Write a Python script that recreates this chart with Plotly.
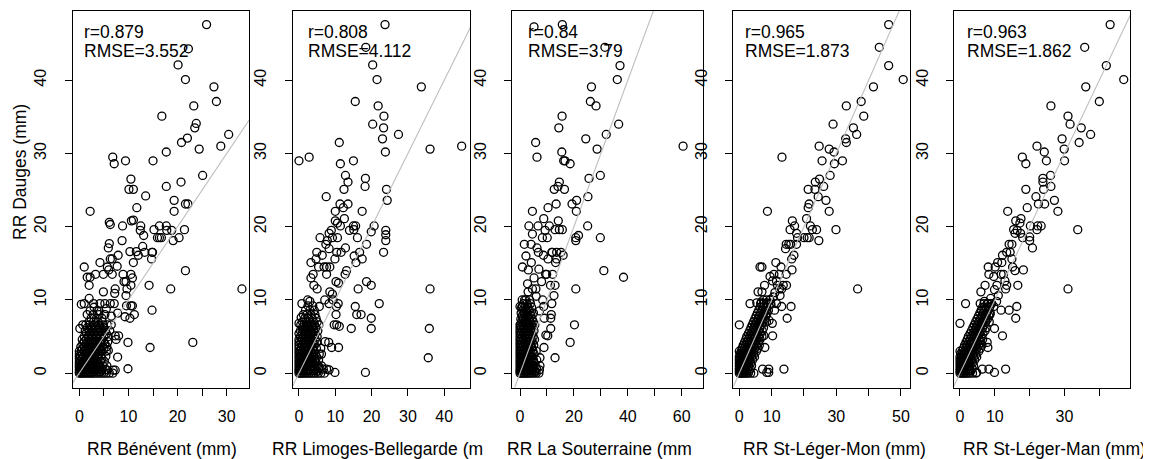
import plotly.graph_objects as go

# ---- data (mm) ----
stations = ["Bénévent", "Limoges-Bellegarde", "La Souterraine", "St-Léger-Mon", "St-Léger-Man"]
xlabels = ["RR Bénévent (mm)", "RR Limoges-Bellegarde (m", "RR La Souterraine (mm",
           "RR St-Léger-Mon (mm)", "RR St-Léger-Man (mm)"]
ylabel = "RR Dauges (mm)"
r_vals = ["0.879", "0.808", "0.84", "0.965", "0.963"]
rmse_vals = ["3.552", "4.112", "3.79", "1.873", "1.862"]

# scattered points (x = station, y = Dauges)
benevent_pts = [
    (25.9, 47.6), (22.2, 44.3), (20.1, 42.1), (21.6, 40.1), (27.4, 39.1), (27.9, 37.1), (23.3, 36.5),
    (16.8, 35.1),
    (23.8, 34.1), (23.5, 33.5), (30.4, 32.6), (22.0, 32.1), (20.8, 31.5), (24.4, 30.6), (28.8, 31.0),
    (6.8, 29.5), (7.1, 28.6), (9.4, 29.0), (15.0, 29.0), (17.7, 30.2), (25.1, 27.0), (10.5, 26.5),
    (10.1, 25.1), (11.0, 25.1), (20.7, 26.1), (17.7, 25.5), (13.5, 24.2), (19.3, 23.6), (21.6, 23.1),
    (22.1, 23.1), (19.3, 22.1), (2.2, 22.1), (11.7, 22.6), (6.1, 20.6), (6.3, 20.3), (10.6, 20.8),
    (11.0, 20.9), (8.8, 20.1), (12.5, 20.1), (12.4, 19.5), (15.2, 19.6), (16.3, 20.1), (17.7, 20.1),
    (17.8, 19.5), (18.8, 19.5), (21.4, 19.6), (15.9, 18.5), (16.3, 18.5), (16.7, 18.5), (20.3, 18.5),
    (19.1, 18.1), (8.7, 18.1), (13.1, 18.8), (6.1, 17.7), (5.9, 17.1), (7.9, 16.1), (10.3, 16.6),
    (11.6, 16.6), (12.0, 16.1), (13.3, 16.5), (14.8, 16.5), (14.9, 16.5), (12.9, 17.3), (11.0, 15.1),
    (14.7, 15.6), (6.3, 15.6), (6.7, 15.6), (4.2, 15.1), (7.7, 14.6), (5.7, 14.5), (6.0, 14.1),
    (4.9, 13.5), (6.7, 13.5), (1.0, 14.5), (3.3, 13.5), (1.6, 13.1), (2.2, 13.1), (2.0, 12.0),
    (8.9, 13.5), (9.1, 12.5), (9.5, 12.5), (10.5, 13.5), (10.8, 13.0), (10.5, 12.0), (9.7, 11.5),
    (7.3, 11.5), (7.2, 10.9), (4.9, 11.1), (9.5, 10.6), (14.2, 12.0), (18.6, 11.5), (21.6, 14.0),
    (14.8, 8.6), (11.2, 8.0), (9.6, 9.2), (10.5, 9.2), (10.8, 9.2), (1.0, 9.5), (2.9, 9.5), (4.2, 9.5),
    (5.2, 9.5), (6.3, 9.5), (7.1, 9.5), (7.8, 8.2), (0.1, 6.1), (0.7, 6.6), (9.3, 7.7), (10.3, 7.5),
    (7.3, 5.1), (8.0, 5.1), (7.5, 4.6), (9.9, 4.2), (23.1, 4.2), (14.4, 3.5), (4.2, 3.6), (5.9, 3.1),
    (7.8, 2.2), (9.9, 0.6), (7.3, 0.4), (6.9, 0.4), (5.6, 0.45), (4.6, 0.4), (33.1, 11.5),
    (3.0, 9.0), (4.0, 8.5), (5.5, 8.8), (6.5, 7.8), (0.4, 9.4), (2.0, 10.2),
]
limoges_pts = [
    (23.7, 47.6), (18.4, 44.5), (20.3, 42.1), (21.5, 40.1), (33.7, 39.1), (15.5, 37.1), (21.8, 36.5),
    (23.4, 35.1), (20.3, 34.0), (23.3, 33.5), (27.4, 32.6), (23.0, 32.0), (11.1, 31.5), (36.1, 30.6),
    (23.8, 30.2), (44.8, 31.0), (0.0, 29.0), (2.8, 29.5), (11.4, 28.6), (15.0, 29.0), (12.8, 27.0),
    (13.5, 26.1), (18.3, 26.6), (18.2, 25.5), (12.4, 25.1), (7.5, 24.1), (24.1, 25.1), (24.3, 23.6),
    (11.3, 23.1), (13.5, 23.1), (12.2, 22.6), (17.4, 22.1), (10.0, 22.1), (12.5, 21.1), (10.6, 20.5),
    (11.4, 20.1), (10.0, 20.8), (20.7, 20.1), (19.9, 19.3), (8.9, 19.5), (8.3, 19.1), (9.2, 18.5),
    (10.6, 18.5), (13.9, 19.5), (15.1, 19.6), (15.6, 20.1), (15.0, 20.1), (16.1, 18.5), (23.9, 19.5),
    (23.9, 18.9), (23.9, 18.1), (18.6, 17.6), (5.8, 18.5), (7.4, 17.6), (7.8, 18.1), (8.3, 17.0),
    (12.8, 17.1), (11.6, 16.5), (10.4, 16.5), (9.9, 15.6), (16.7, 16.5), (15.2, 16.0), (15.7, 15.1),
    (17.4, 15.6), (23.3, 16.5), (4.9, 16.5), (6.4, 16.1), (3.3, 15.1), (4.7, 15.6), (5.4, 14.5),
    (6.9, 14.5), (7.6, 14.5), (7.6, 13.5), (8.5, 14.5), (13.1, 14.0), (12.7, 13.5), (3.9, 13.5),
    (3.3, 13.0), (4.1, 12.0), (5.0, 11.5), (10.2, 12.5), (10.9, 12.3), (8.5, 11.1), (18.6, 12.5),
    (19.9, 12.0), (16.3, 11.5), (36.1, 11.5), (9.2, 10.8), (9.4, 10.0), (7.1, 10.0), (8.3, 9.5),
    (10.8, 9.5), (0.8, 9.5), (22.1, 9.5), (15.5, 9.1), (3.0, 9.8), (5.6, 9.1), (10.3, 9.1), (10.2, 8.0),
    (15.9, 8.0), (17.1, 8.0), (9.7, 6.6), (10.4, 6.6), (11.1, 6.4), (14.4, 6.1), (19.9, 7.5), (19.9, 6.1),
    (35.9, 6.1), (35.6, 2.1), (9.0, 3.5), (10.9, 3.5), (7.2, 4.3), (8.2, 4.2), (6.2, 2.6), (18.3, 0.1),
    (9.9, 0.1), (7.6, 0.55), (6.7, 0.55), (8.3, 0.45), (5.5, 0.9), (0.0, 6.8), (0.6, 7.6), (2.4, 10.0),
]
souterraine_pts = [
    (15.7, 47.6), (5.2, 47.3), (31.5, 44.5), (37.1, 42.0), (36.1, 40.1), (26.5, 39.1), (26.1, 37.1),
    (28.2, 36.5), (15.6, 35.1), (36.6, 34.0), (14.4, 33.5), (32.0, 32.6), (24.4, 32.0), (5.8, 31.5),
    (28.6, 30.6), (60.5, 31.0), (6.3, 29.5), (15.5, 30.2), (16.2, 29.0), (16.7, 29.0), (18.6, 28.6),
    (29.8, 27.0), (25.6, 26.6), (14.6, 26.1), (14.1, 25.5), (12.7, 25.1), (16.5, 25.1), (25.2, 24.1),
    (13.4, 23.1), (19.3, 23.1), (21.0, 23.6), (20.9, 22.1), (4.6, 22.1), (10.4, 22.6), (14.2, 20.8),
    (8.8, 21.1), (3.3, 20.1), (6.7, 20.1), (10.9, 20.1), (13.0, 19.6), (14.6, 19.6), (15.7, 19.6),
    (9.3, 19.5), (10.1, 18.5), (8.3, 18.5), (4.6, 19.0), (25.1, 20.1), (29.8, 18.5), (21.7, 18.8),
    (20.7, 18.5), (20.7, 18.1), (1.6, 17.6), (4.1, 17.6), (6.3, 17.1), (6.8, 16.5), (8.7, 16.1),
    (12.0, 16.5), (11.8, 16.5), (13.6, 16.5), (15.2, 16.5), (16.0, 16.1), (13.6, 15.6), (13.2, 15.1),
    (10.4, 15.6), (0.9, 14.5), (3.1, 14.1), (4.2, 15.1), (20.7, 11.5), (31.1, 14.0), (38.4, 13.1),
    (12.1, 13.5), (9.5, 13.5), (9.9, 13.5), (8.0, 12.5), (11.3, 12.0), (13.0, 12.0), (12.6, 10.6),
    (11.8, 9.5), (11.6, 8.0), (11.4, 7.5), (8.8, 9.1), (7.2, 8.5), (8.4, 10.0), (3.0, 11.1), (4.6, 11.5),
    (5.9, 11.5), (0.0, 9.1), (0.9, 9.1), (1.7, 10.0), (20.2, 6.6), (18.6, 4.2), (13.0, 2.1), (11.4, 6.1),
    (9.6, 5.2), (10.3, 5.1), (8.9, 3.5), (7.4, 2.1), (7.4, 1.0), (7.2, 0.45), (5.6, 0.1), (0.0, 6.6),
    (9.0, 7.5), (6.0, 10.5), (2.8, 12.2), (5.2, 13.0), (7.0, 14.2), (2.2, 16.0),
]
legermon_pts = [
    (46.2, 47.6), (43.3, 44.5), (46.2, 42.0), (50.7, 40.1), (41.5, 39.1), (37.7, 37.1), (33.1, 36.5),
    (38.5, 35.1), (29.0, 34.0), (35.3, 33.5), (36.3, 32.6), (32.9, 32.0), (33.1, 31.5), (24.7, 31.0),
    (13.2, 29.5), (27.8, 30.6), (29.3, 30.2), (25.6, 29.0), (29.4, 28.6), (31.9, 29.0), (28.1, 27.0),
    (26.1, 25.5), (24.8, 26.5), (23.5, 26.1), (21.3, 25.1), (23.4, 25.1), (24.4, 24.1), (26.8, 23.6),
    (21.6, 23.1), (21.3, 22.6), (8.7, 22.1), (27.8, 22.1), (20.8, 21.1), (16.4, 20.8), (22.0, 20.1),
    (22.6, 19.6), (23.9, 19.6), (29.9, 19.6), (15.7, 19.6), (17.1, 20.1), (17.7, 19.1), (18.0, 18.5),
    (20.0, 18.5), (21.0, 18.5), (21.6, 18.5), (24.6, 18.1), (14.5, 17.6), (15.3, 17.6), (15.9, 17.6),
    (17.7, 17.6), (14.3, 17.0), (16.9, 16.1), (16.2, 15.6), (16.3, 14.1), (14.5, 13.5), (12.9, 14.5),
    (11.3, 15.1), (6.4, 14.5), (7.0, 14.5), (12.4, 13.5), (10.7, 13.5), (9.5, 13.2), (10.3, 12.6),
    (7.8, 12.0), (11.8, 12.0), (13.6, 12.0), (14.6, 12.0), (12.4, 11.5), (13.1, 11.5), (36.6, 11.5),
    (5.8, 11.1), (7.0, 11.1), (12.6, 10.6), (9.5, 10.0), (3.3, 9.5), (11.5, 9.5), (13.1, 9.1),
    (16.0, 9.1), (14.8, 7.5), (10.9, 8.6), (7.6, 5.1), (10.3, 5.1), (7.9, 3.5), (0.0, 6.6), (13.8, 0.55),
    (7.2, 0.55), (9.1, 0.55), (8.5, 0.1), (9.1, 0.1), (11.0, 11.0), (8.5, 9.6), (9.8, 9.4),
    (10.5, 10.4), (6.8, 9.7), (5.4, 9.6), (8.2, 8.0), (9.2, 7.2), (10.2, 6.8), (11.5, 12.6),
]
legerman_pts = [
    (43.1, 47.6), (35.8, 44.5), (42.0, 42.0), (47.0, 40.1), (36.1, 39.1), (40.0, 37.1), (26.1, 36.5),
    (31.0, 35.1), (31.6, 34.0), (34.8, 33.5), (37.5, 32.6), (29.3, 32.0), (34.2, 31.5), (22.1, 31.0),
    (29.9, 30.6), (24.2, 30.2), (17.9, 29.5), (18.9, 28.6), (24.8, 29.0), (30.0, 29.0), (26.0, 27.0),
    (23.8, 26.6), (23.8, 26.1), (26.1, 25.5), (18.9, 25.1), (24.0, 25.1), (21.8, 24.1), (27.1, 23.6),
    (22.5, 23.1), (24.3, 23.1), (19.3, 22.6), (13.7, 22.1), (28.1, 22.1), (20.2, 20.1), (22.3, 20.1),
    (23.3, 20.1), (22.1, 19.6), (33.8, 19.6), (16.0, 20.8), (17.5, 21.1), (17.2, 20.5), (15.4, 19.6),
    (16.4, 19.5), (15.8, 19.1), (17.4, 19.1), (18.0, 18.5), (20.0, 18.6), (20.0, 18.1), (20.8, 17.1),
    (14.1, 17.6), (14.9, 17.6), (13.4, 16.5), (14.4, 16.5), (12.2, 16.1), (10.8, 15.1), (12.0, 15.1),
    (14.9, 15.6), (15.1, 14.5), (18.2, 14.1), (15.8, 14.0), (8.1, 14.5), (8.3, 13.5), (10.1, 14.5),
    (9.7, 13.2), (11.8, 13.5), (12.5, 13.5), (10.6, 12.0), (12.9, 12.6), (13.4, 12.0), (16.6, 12.0),
    (7.2, 12.0), (31.0, 11.5), (13.1, 11.5), (9.9, 11.4), (11.0, 10.6), (6.0, 11.1), (1.6, 9.5),
    (5.8, 9.5), (8.1, 9.5), (9.1, 9.5), (9.7, 9.1), (11.8, 8.6), (14.1, 8.6), (16.3, 9.1), (16.0, 7.5),
    (7.5, 7.5), (9.9, 6.1), (12.2, 5.1), (7.8, 4.2), (8.0, 3.5), (0.0, 6.8), (6.4, 0.55), (8.3, 0.55),
    (9.9, 0.1), (13.1, 0.55), (4.8, 0.1), (7.0, 9.8), (8.8, 10.2), (10.5, 9.8), (6.2, 8.6), (8.6, 8.0),
]

# dense cores: rows of (y, [x values])
benevent_rows = [
    (0.0, [0, 0.3, 0.6, 1.0, 1.4, 1.8, 2.2, 2.6, 3.0, 3.5, 4.0, 4.5, 5.0, 5.5, 6.1, 6.8]),
    (0.2, [0, 0.5, 1.1, 1.7, 2.3, 2.9, 3.6, 4.3]),
    (0.5, [0, 0.3, 0.8, 1.3, 1.9, 2.5, 3.1, 3.8, 4.6, 5.3]),
    (0.8, [0, 0.6, 1.2, 1.8, 2.4, 3.0, 3.6, 4.2]),
    (1.0, [0, 0.3, 0.9, 1.5, 2.1, 2.7, 3.3, 4.0, 4.8, 5.6]),
    (1.3, [0, 0.6, 1.2, 1.8, 2.4, 3.0, 3.7]),
    (1.6, [0, 0.3, 0.9, 1.5, 2.1, 2.8, 3.5, 4.3, 5.1]),
    (2.0, [0, 0.6, 1.2, 1.8, 2.4, 3.1, 3.8, 4.6]),
    (2.3, [0, 0.3, 0.9, 1.5, 2.2, 2.9, 3.6, 4.4, 5.4]),
    (2.6, [0, 0.6, 1.2, 1.9, 2.6, 3.3, 4.0]),
    (3.0, [0, 0.4, 1.0, 1.7, 2.4, 3.1, 3.8, 4.6, 5.5]),
    (3.3, [0.6, 1.3, 2.0, 2.7, 3.5, 4.2, 5.0]),
    (3.6, [0.3, 1.0, 1.7, 2.4, 3.1, 3.9, 4.7, 5.6]),
    (4.0, [0.7, 1.4, 2.1, 2.8, 3.6, 4.4, 5.2]),
    (4.3, [1.0, 1.8, 2.5, 3.3, 4.1, 4.9, 5.8]),
    (4.6, [0.6, 1.4, 2.2, 3.0, 3.8, 4.6]),
    (5.0, [1.0, 1.8, 2.6, 3.4, 4.2, 5.0, 5.9]),
    (5.4, [1.4, 2.2, 3.0, 3.8, 4.7, 5.5]),
    (5.8, [1.2, 2.0, 2.8, 3.6, 4.4, 5.3, 6.2]),
    (6.2, [1.6, 2.4, 3.2, 4.1, 5.0]),
    (6.6, [1.3, 2.1, 3.0, 3.9, 4.8, 5.7, 6.5]),
    (7.0, [2.0, 2.9, 3.8, 4.7]),
    (7.5, [2.4, 3.5, 4.6]),
    (8.0, [1.6, 2.8, 4.0, 5.2]),
    (8.5, [2.2, 3.6]),
]
limoges_rows = [
    (0.0, [0, 0.4, 0.8, 1.3, 1.8, 2.3, 2.8, 3.4, 4.0, 4.6, 5.3, 6.0, 7.0]),
    (0.3, [0, 0.6, 1.2, 1.9, 2.6, 3.3, 4.1, 5.0]),
    (0.6, [0, 0.3, 0.9, 1.5, 2.2, 2.9, 3.7, 4.5, 5.5]),
    (1.0, [0, 0.6, 1.2, 1.9, 2.6, 3.4, 4.2, 5.1, 6.2]),
    (1.4, [0, 0.3, 0.9, 1.6, 2.3, 3.0, 3.8, 4.7]),
    (1.8, [0, 0.6, 1.3, 2.0, 2.7, 3.5, 4.4, 5.4]),
    (2.2, [0, 0.3, 0.9, 1.6, 2.3, 3.1, 4.0, 4.9]),
    (2.6, [0, 0.6, 1.3, 2.0, 2.8, 3.6, 4.5, 5.6]),
    (3.0, [0, 0.3, 1.0, 1.7, 2.5, 3.3, 4.2]),
    (3.4, [0, 0.6, 1.3, 2.1, 2.9, 3.8, 4.8, 6.0]),
    (3.8, [0, 0.9, 1.7, 2.5, 3.4, 4.3]),
    (4.2, [0, 0.5, 1.3, 2.1, 3.0, 3.9, 4.9]),
    (4.6, [0, 0.9, 1.7, 2.6, 3.5, 4.5]),
    (5.0, [0.4, 1.2, 2.1, 3.0, 3.9, 5.0]),
    (5.4, [0, 0.8, 1.7, 2.6, 3.5, 4.5]),
    (5.8, [0.4, 1.3, 2.2, 3.1, 4.1, 5.2]),
    (6.2, [0.9, 1.8, 2.7, 3.7, 4.7]),
    (6.6, [0.5, 1.4, 2.3, 3.3, 4.3, 5.5]),
    (7.0, [1.0, 2.0, 3.0, 4.0, 5.0]),
    (7.5, [1.6, 2.6, 3.6, 4.7]),
    (8.0, [1.2, 2.2, 3.3, 4.4]),
    (8.6, [1.8, 3.0, 4.2]),
    (9.2, [2.5, 3.8]),
]
souterraine_rows = [
    (0.0, [0, 0.5, 1.0, 1.6, 2.2, 2.8, 3.5, 4.2, 5.0, 6.0, 7.0]),
    (0.3, [0, 0.7, 1.4, 2.1, 2.9, 3.7, 4.6, 5.5]),
    (0.6, [0, 0.4, 1.1, 1.8, 2.5, 3.3, 4.1, 5.0, 6.2]),
    (1.0, [0, 0.7, 1.4, 2.2, 3.0, 3.8, 4.7, 5.7]),
    (1.4, [0, 0.4, 1.1, 1.8, 2.6, 3.4, 4.3, 5.2]),
    (1.8, [0, 0.7, 1.5, 2.3, 3.1, 4.0, 5.0, 6.2]),
    (2.2, [0, 0.4, 1.1, 1.9, 2.7, 3.6, 4.5]),
    (2.6, [0, 0.8, 1.6, 2.4, 3.3, 4.2, 5.2]),
    (3.0, [0, 0.4, 1.2, 2.0, 2.9, 3.8, 4.8, 6.0]),
    (3.4, [0, 0.8, 1.6, 2.5, 3.4, 4.4]),
    (3.8, [0, 0.4, 1.2, 2.1, 3.0, 4.0, 5.1]),
    (4.2, [0, 0.8, 1.7, 2.6, 3.6, 4.6]),
    (4.6, [0, 0.4, 1.3, 2.2, 3.2, 4.2, 5.4]),
    (5.0, [0, 0.9, 1.8, 2.8, 3.8, 4.9]),
    (5.4, [0, 0.5, 1.4, 2.4, 3.4, 4.5]),
    (5.8, [0, 0.9, 1.9, 2.9, 4.0, 5.2]),
    (6.2, [0, 0.5, 1.5, 2.5, 3.6, 4.7]),
    (6.6, [0.2, 1.1, 2.1, 3.2, 4.3, 5.5]),
    (7.0, [0.6, 1.6, 2.7, 3.8, 4.9]),
    (7.4, [0.3, 1.2, 2.3, 3.4, 4.5]),
    (7.8, [0.8, 1.9, 3.0, 4.1]),
    (8.2, [0.4, 1.5, 2.6, 3.8, 5.0]),
    (8.6, [1.0, 2.2, 3.4]),
    (9.0, [0.6, 1.8, 3.0, 4.3]),
    (9.5, [1.3, 2.6, 3.9]),
    (10.0, [0.8, 2.2, 3.6]),
]
legermon_rows = [
    (0.0, [0, 0.4, 0.8, 1.2, 1.7, 2.2, 2.8, 3.5, 4.5]),
    (0.3, [0, 0.5, 1.0, 1.6, 2.2, 3.0]),
    (0.6, [0, 0.3, 0.8, 1.3, 1.9, 2.6, 3.4]),
    (1.0, [0, 0.5, 1.0, 1.6, 2.2, 2.9, 3.8]),
    (1.4, [0, 0.3, 0.8, 1.4, 2.0, 2.7, 3.5]),
    (1.8, [0, 0.6, 1.2, 1.8, 2.5, 3.2, 4.1]),
    (2.2, [0, 0.4, 1.0, 1.6, 2.3, 3.0, 3.8, 4.7]),
    (2.6, [0.2, 0.8, 1.4, 2.1, 2.8, 3.6, 4.5]),
    (3.0, [0, 0.6, 1.2, 1.9, 2.6, 3.4, 4.3, 5.3]),
    (3.4, [0.9, 1.6, 2.3, 3.1, 3.9, 4.8, 5.8]),
    (3.8, [1.2, 1.9, 2.7, 3.5, 4.4, 5.3, 6.2]),
    (4.2, [1.6, 2.4, 3.2, 4.0, 4.9, 5.9]),
    (4.6, [2.0, 2.8, 3.6, 4.5, 5.4, 6.4]),
    (5.0, [2.3, 3.2, 4.1, 5.0, 6.0, 7.0]),
    (5.4, [2.8, 3.7, 4.6, 5.5, 6.5]),
    (5.8, [3.2, 4.1, 5.0, 6.0, 7.1]),
    (6.2, [3.6, 4.5, 5.4, 6.4, 7.5]),
    (6.6, [4.0, 4.9, 5.9, 6.9]),
    (7.0, [4.4, 5.3, 6.3, 7.3, 8.4]),
    (7.4, [4.8, 5.8, 6.8, 7.8]),
    (7.8, [5.2, 6.2, 7.2, 8.2]),
    (8.2, [5.6, 6.6, 7.6, 8.6]),
    (8.6, [6.0, 7.0, 8.0, 9.0]),
    (9.0, [6.4, 7.4, 8.4]),
    (9.5, [6.6, 7.6, 8.6, 9.6]),
    (10.0, [7.4, 8.4, 9.4]),
]
legerman_rows = [
    (0.0, [0, 0.4, 0.8, 1.2, 1.7, 2.2, 2.8, 3.6, 4.6]),
    (0.3, [0, 0.5, 1.0, 1.6, 2.3, 3.1]),
    (0.6, [0, 0.3, 0.8, 1.3, 1.9, 2.6, 3.5]),
    (1.0, [0, 0.5, 1.0, 1.6, 2.2, 2.9, 3.9]),
    (1.4, [0, 0.3, 0.8, 1.4, 2.0, 2.7, 3.6]),
    (1.8, [0, 0.6, 1.2, 1.8, 2.5, 3.3, 4.2]),
    (2.2, [0, 0.4, 1.0, 1.6, 2.3, 3.0, 3.9, 4.8]),
    (2.6, [0.2, 0.8, 1.4, 2.1, 2.9, 3.7, 4.6]),
    (3.0, [0, 0.6, 1.3, 2.0, 2.7, 3.5, 4.4, 5.4]),
    (3.4, [1.0, 1.7, 2.4, 3.2, 4.0, 4.9, 5.9]),
    (3.8, [1.3, 2.0, 2.8, 3.6, 4.5, 5.4, 6.3]),
    (4.2, [1.7, 2.5, 3.3, 4.1, 5.0, 6.0]),
    (4.6, [2.1, 2.9, 3.7, 4.6, 5.5, 6.5]),
    (5.0, [2.4, 3.3, 4.2, 5.1, 6.1]),
    (5.4, [2.9, 3.8, 4.7, 5.6, 6.6]),
    (5.8, [3.3, 4.2, 5.1, 6.1, 7.2]),
    (6.2, [3.7, 4.6, 5.5, 6.5, 7.5]),
    (6.6, [4.1, 5.0, 6.0, 7.0]),
    (7.0, [4.5, 5.4, 6.4, 7.4, 8.4]),
    (7.4, [4.9, 5.9, 6.9, 7.9]),
    (7.8, [5.3, 6.3, 7.3, 8.3]),
    (8.2, [5.7, 6.7, 7.7, 8.7]),
    (8.6, [6.1, 7.1, 8.1]),
    (9.0, [6.5, 7.5, 8.5]),
    (9.5, [6.9, 7.9, 8.9]),
]

scatter_pts = [benevent_pts, limoges_pts, souterraine_pts, legermon_pts, legerman_pts]
dense_rows = [benevent_rows, limoges_rows, souterraine_rows, legermon_rows, legerman_rows]

# 1:1 reference line extent
ref_line = [-5, 80]

# axis settings per panel
x_ranges = [[-1.35, 34.6], [-1.73, 47.1], [-2.86, 68.0], [-1.86, 52.8], [-1.72, 48.8]]
y_range = [-1.96, 49.5]
x_ticks = [[0, 5, 10, 15, 20, 25, 30], [0, 10, 20, 30, 40], [0, 10, 20, 30, 40, 50, 60],
           [0, 10, 20, 30, 40, 50], [0, 10, 20, 30, 40]]
x_ticktext = [["0", "", "10", "", "20", "", "30"], ["0", "10", "20", "30", "40"],
              ["0", "", "20", "", "40", "", "60"], ["0", "10", "", "30", "", "50"],
              ["0", "10", "", "30", ""]]
y_ticks = [0, 10, 20, 30, 40]

# ---- layout geometry (pixels of the 1151x459 page) ----
# the page body has an 8px margin, so the figure is 8px smaller and shifted
OFF = 8
W, H = 1151 - OFF, 459 - OFF
box_px = [(72.7, 249.3), (292.7, 470.0), (512.3, 703.3), (733.3, 910.0), (954.0, 1130.0)]
box_top, box_bottom = 10.7, 387.5
FONT = "Liberation Sans, Arial, sans-serif"


def px(x):
    return (x - OFF) / W


def py(y):
    return (H - (y - OFF)) / H


fig = go.Figure()
for i in range(5):
    xs = [p[0] for p in scatter_pts[i]]
    ys = [p[1] for p in scatter_pts[i]]
    for yv, row in dense_rows[i]:
        xs += row
        ys += [yv] * len(row)
    ax = "" if i == 0 else str(i + 1)
    fig.add_trace(go.Scatter(
        x=xs, y=ys, mode="markers", xaxis="x" + ax, yaxis="y" + ax,
        marker=dict(symbol="circle-open", size=8, color="black", line=dict(width=1.3, color="black")),
        showlegend=False, hoverinfo="skip"))
    fig.add_trace(go.Scatter(
        x=ref_line, y=ref_line, mode="lines", xaxis="x" + ax, yaxis="y" + ax,
        line=dict(color="#bebebe", width=1.1), showlegend=False, hoverinfo="skip"))

    common = dict(showline=True, linecolor="black", linewidth=1, mirror=True,
                  ticks="outside", ticklen=7, tickcolor="black", tickwidth=1,
                  showgrid=False, zeroline=False,
                  tickfont=dict(family=FONT, size=16, color="black"))
    fig.update_layout(**{
        "xaxis" + ax: dict(domain=[px(box_px[i][0]), px(box_px[i][1])], range=x_ranges[i],
                           tickvals=x_ticks[i], ticktext=x_ticktext[i], anchor="y" + ax,
                           ticklabelstandoff=7, **common),
        "yaxis" + ax: dict(domain=[py(box_bottom), py(box_top)], range=y_range,
                           tickvals=y_ticks, ticktext=[str(v) for v in y_ticks], tickangle=-90,
                           anchor="x" + ax, ticklabelstandoff=12, **common),
    })

    # r / RMSE text
    r_left = [81.7, 306.0, 525.7, 743.3, 965.0][i]
    fig.add_annotation(x=px(r_left), y=py(32), xref="paper", yref="paper",
                       text="r=" + r_vals[i], showarrow=False, xanchor="left", yanchor="middle",
                       font=dict(family=FONT, size=17.5, color="black"))
    fig.add_annotation(x=px(r_left), y=py(51), xref="paper", yref="paper",
                       text="RMSE=" + rmse_vals[i], showarrow=False, xanchor="left", yanchor="middle",
                       font=dict(family=FONT, size=17.5, color="black"))

# x axis titles (the 2nd and 3rd are cut by the panel edge in the original)
title_pos = [(161.5, "center"), (270.0, "left"), (505.0, "left"), (834.0, "center"), (1054.0, "center")]
for i, (xp, anc) in enumerate(title_pos):
    fig.add_annotation(x=px(xp), y=py(449), xref="paper", yref="paper", text=xlabels[i],
                       showarrow=False, xanchor=anc, yanchor="middle",
                       font=dict(family=FONT, size=17.5, color="black"))

fig.add_annotation(x=px(20), y=py(172), xref="paper", yref="paper", text=ylabel,
                   textangle=-90, showarrow=False, xanchor="center", yanchor="middle",
                   font=dict(family=FONT, size=17.5, color="black"))

fig.update_layout(width=W, height=H, margin=dict(l=0, r=0, t=0, b=0),
                  paper_bgcolor="white", plot_bgcolor="white")

fig.write_html("out.html")
